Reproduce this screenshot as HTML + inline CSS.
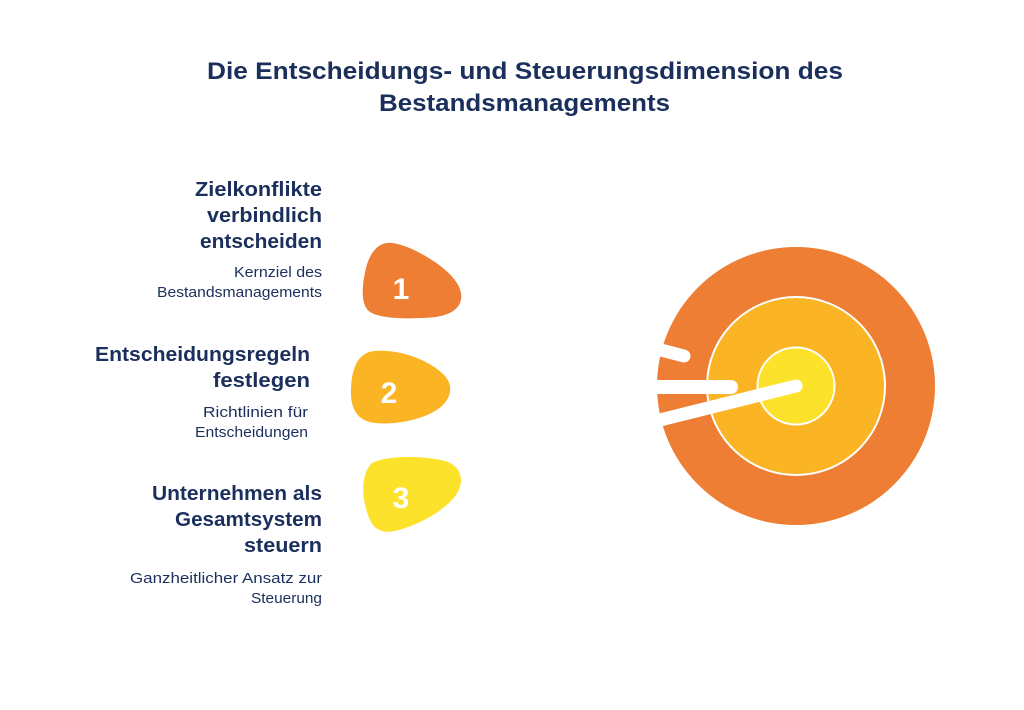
<!DOCTYPE html>
<html>
<head>
<meta charset="utf-8">
<style>
  html,body{margin:0;padding:0;background:#ffffff;}
  svg{display:block;}
  .t{font-family:"Liberation Sans",sans-serif;fill:#1b2f5c;}
  .h{font-weight:bold;font-size:20px;}
  .s{font-size:15px;}
  .n{font-family:"Liberation Sans",sans-serif;font-weight:bold;font-size:30px;fill:#ffffff;}
</style>
</head>
<body>
<svg width="1024" height="710" viewBox="0 0 1024 710" xmlns="http://www.w3.org/2000/svg">
  <rect width="1024" height="710" fill="#ffffff"/>

  <!-- Title -->
  <text class="t" x="207" y="79" font-size="24" font-weight="bold" textLength="636" lengthAdjust="spacingAndGlyphs">Die Entscheidungs- und Steuerungsdimension des</text>
  <text class="t" x="379" y="111" font-size="24" font-weight="bold" textLength="291" lengthAdjust="spacingAndGlyphs">Bestandsmanagements</text>

  <!-- Block 1 -->
  <text class="t h" x="195" y="196" textLength="127" lengthAdjust="spacingAndGlyphs">Zielkonflikte</text>
  <text class="t h" x="207" y="222" textLength="115" lengthAdjust="spacingAndGlyphs">verbindlich</text>
  <text class="t h" x="200" y="248" textLength="122" lengthAdjust="spacingAndGlyphs">entscheiden</text>
  <text class="t s" x="234" y="277" textLength="88" lengthAdjust="spacingAndGlyphs">Kernziel des</text>
  <text class="t s" x="157" y="297" textLength="165" lengthAdjust="spacingAndGlyphs">Bestandsmanagements</text>

  <!-- Block 2 -->
  <text class="t h" x="95" y="361" textLength="215" lengthAdjust="spacingAndGlyphs">Entscheidungsregeln</text>
  <text class="t h" x="213" y="387" textLength="97" lengthAdjust="spacingAndGlyphs">festlegen</text>
  <text class="t s" x="203" y="417" textLength="105" lengthAdjust="spacingAndGlyphs">Richtlinien für</text>
  <text class="t s" x="195" y="437" textLength="113" lengthAdjust="spacingAndGlyphs">Entscheidungen</text>

  <!-- Block 3 -->
  <text class="t h" x="152" y="500" textLength="170" lengthAdjust="spacingAndGlyphs">Unternehmen als</text>
  <text class="t h" x="175" y="526" textLength="147" lengthAdjust="spacingAndGlyphs">Gesamtsystem</text>
  <text class="t h" x="244" y="552" textLength="78" lengthAdjust="spacingAndGlyphs">steuern</text>
  <text class="t s" x="130" y="583" textLength="192" lengthAdjust="spacingAndGlyphs">Ganzheitlicher Ansatz zur</text>
  <text class="t s" x="251" y="603" textLength="71" lengthAdjust="spacingAndGlyphs">Steuerung</text>

  <!-- Blobs -->
  <path d="M 387 243 C 400 242, 420 252, 435 262 C 455 276, 465 290, 460 303 C 455 314, 440 318, 420 318 C 400 319, 380 318, 370 312 C 360 305, 362 285, 366 268 C 370 252, 378 244, 387 243 Z" fill="#ed7e33"/>
  <text class="n" x="401" y="299" text-anchor="middle">1</text>

  <path d="M 375 351 C 400 349, 430 360, 445 376 C 455 388, 450 402, 435 411 C 420 420, 395 425, 375 423 C 355 421, 350 405, 351 388 C 352 368, 358 352, 375 351 Z" fill="#fbb424"/>
  <text class="n" x="389" y="403" text-anchor="middle">2</text>

  <path d="M 372 463 C 385 456, 420 455, 445 461 C 462 466, 465 482, 456 495 C 445 510, 420 525, 395 531 C 380 534, 372 528, 368 515 C 362 498, 360 475, 372 463 Z" fill="#fde22c"/>
  <text class="n" x="401" y="508" text-anchor="middle">3</text>

  <!-- Target -->
  <defs>
    <clipPath id="cl"><rect x="657" y="0" width="400" height="710"/></clipPath>
  </defs>
  <g clip-path="url(#cl)">
    <circle cx="796" cy="386" r="139" fill="#ed7e33"/>
    <circle cx="796" cy="386" r="89" fill="#fbb424" stroke="#ffffff" stroke-width="2"/>
    <circle cx="796" cy="386" r="38.5" fill="#fde22c" stroke="#ffffff" stroke-width="2"/>
    <line x1="630" y1="342" x2="684" y2="356" stroke="#ffffff" stroke-width="13" stroke-linecap="round"/>
    <line x1="630" y1="387" x2="731" y2="387" stroke="#ffffff" stroke-width="14" stroke-linecap="round"/>
    <line x1="600" y1="435" x2="796" y2="386" stroke="#ffffff" stroke-width="13" stroke-linecap="round"/>
  </g>
</svg>
</body>
</html>
